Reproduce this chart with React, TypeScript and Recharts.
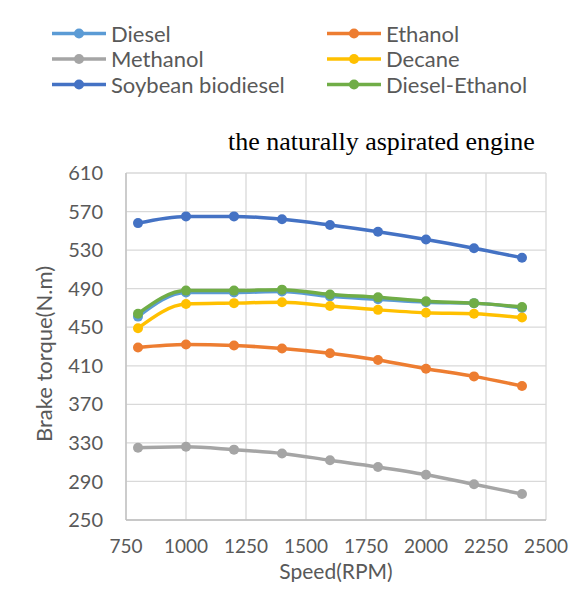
import React from "react";
import { CartesianGrid, Line, LineChart, XAxis, YAxis } from "recharts";

const speeds = [800, 1000, 1200, 1400, 1600, 1800, 2000, 2200, 2400];

const diesel = [461, 486, 486, 487, 482, 479, 476, 475, 470];
const ethanol = [429, 432, 431, 428, 423, 416, 407, 399, 389];
const methanol = [325, 326, 323, 319, 312, 305, 297, 287, 277];
const decane = [449, 474, 475, 476, 472, 468, 465, 464, 460];
const soybean = [558, 565, 565, 562, 556, 549, 541, 532, 522];
const dieselEthanol = [464, 488, 488, 489, 484, 481, 477, 475, 471];

const xTicks = [750, 1000, 1250, 1500, 1750, 2000, 2250, 2500];
const yTicks = [250, 290, 330, 370, 410, 450, 490, 530, 570, 610];

const series = [
  { key: "diesel", name: "Diesel", color: "#5B9BD5", values: diesel },
  { key: "ethanol", name: "Ethanol", color: "#ED7D31", values: ethanol },
  { key: "methanol", name: "Methanol", color: "#A5A5A5", values: methanol },
  { key: "decane", name: "Decane", color: "#FFC000", values: decane },
  { key: "soybean", name: "Soybean biodiesel", color: "#4472C4", values: soybean },
  { key: "dieselEthanol", name: "Diesel-Ethanol", color: "#70AD47", values: dieselEthanol },
];

const data = speeds.map((s, i) => {
  const row: Record<string, number> = { speed: s };
  series.forEach((ser) => {
    row[ser.key] = ser.values[i];
  });
  return row;
});

const FONT = "Lato, 'Noto Sans', sans-serif";
const GREY = "#595959";

// legend + titles drawn on top of the chart
function Overlay() {
  return (
    <svg width={582} height={590} style={{ position: "absolute", left: 0, top: 0, pointerEvents: "none" }}>
      {series.map((s, i) => {
        const col = i % 2;
        const row = Math.floor(i / 2);
        const x0 = col === 0 ? 52 : 327;
        const cy = 33.5 + row * 25.5;
        return (
          <g key={s.key}>
            <line x1={x0} y1={cy} x2={x0 + 54} y2={cy} stroke={s.color} strokeWidth={3.5} />
            <circle cx={x0 + 27} cy={cy} r={5} fill={s.color} />
            <text x={x0 + 59} y={cy + 8} fontFamily={FONT} fontSize={22} fill={GREY}>
              {s.name}
            </text>
          </g>
        );
      })}
      <text x={228} y={150} fontFamily="'Liberation Serif', 'Times New Roman', serif" fontSize={26} fill="#000">
        the naturally aspirated engine
      </text>
      <text x={336} y={579} textAnchor="middle" fontFamily={FONT} fontSize={21} fill={GREY}>
        Speed(RPM)
      </text>
      <text
        x={52}
        y={354}
        transform="rotate(-90 52 354)"
        textAnchor="middle"
        fontFamily={FONT}
        fontSize={22}
        fill={GREY}
      >
        Brake torque(N.m)
      </text>
    </svg>
  );
}

export default function App() {
  return (
    <div style={{ position: "relative", width: 582, height: 590, margin: -8, overflow: "hidden", background: "#fff" }}>
      <div
        style={{
          position: "absolute",
          left: 6,
          top: 7,
          width: 640,
          height: 640,
          border: "1px solid #d9d9d9",
        }}
      />
      <LineChart width={582} height={590} data={data} margin={{ top: 173, right: 36, bottom: 0, left: 40 }}>
        <CartesianGrid stroke="#d9d9d9" strokeWidth={1.3} />
        <XAxis
          dataKey="speed"
          type="number"
          domain={[750, 2500]}
          ticks={xTicks}
          interval={0}
          tickSize={0}
          tickMargin={20}
          axisLine={{ stroke: "#bfbfbf", strokeWidth: 1.3 }}
          tickLine={false}
          height={70}
          tick={{ fontFamily: FONT, fontSize: 19, fill: GREY }}
        />
        <YAxis
          type="number"
          domain={[250, 610]}
          ticks={yTicks}
          interval={0}
          tickSize={0}
          tickMargin={23}
          axisLine={{ stroke: "#bfbfbf", strokeWidth: 1.3 }}
          tickLine={false}
          width={86}
          tick={{ fontFamily: FONT, fontSize: 20, fill: GREY }}
        />
        {series.map((s) => (
          <Line
            key={s.key}
            dataKey={s.key}
            name={s.name}
            type="monotone"
            stroke={s.color}
            strokeWidth={3.5}
            dot={{ r: 5, fill: s.color, stroke: s.color, strokeWidth: 0 }}
            isAnimationActive={false}
          />
        ))}
      </LineChart>
      <Overlay />
    </div>
  );
}
